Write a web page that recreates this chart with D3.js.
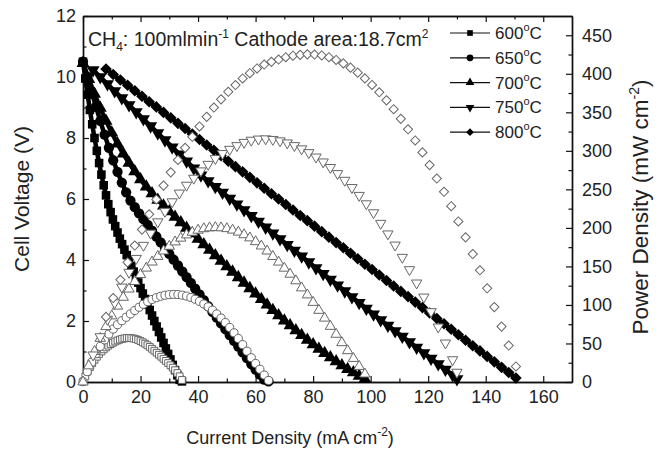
<!DOCTYPE html>
<html>
<head>
<meta charset="utf-8">
<script src="https://cdn.jsdelivr.net/npm/d3@7"></script>
<style>
body { margin: 0; background: #fff; }
svg text { font-family: "Liberation Sans", Arial, sans-serif; fill: #222; }
</style>
</head>
<body>
<svg id="chart" width="662" height="451"></svg>
<script>
const temps = ["600", "650", "700", "750", "800"]
const xTicks = [0, 20, 40, 60, 80, 100, 120, 140, 160]
const vTicks = [0, 2, 4, 6, 8, 10, 12]
const pTicks = [0, 50, 100, 150, 200, 250, 300, 350, 400, 450]

const cur600 = [0,0.8,1.6,2.4,3.2,4.0,4.8,5.6,6.4,7.2,8.0,8.8,9.6,10.4,11.2,12.0,12.8,13.6,14.4,15.2,16.0,16.8,17.6,18.4,19.2,20.0,20.8,21.6,22.4,23.2,24.0,24.8,25.6,26.4,27.2,28.0,28.8,29.6,30.4,31.2,32.0,32.8,33.6,34.4]
const volt600 = [10.50,9.95,9.42,8.92,8.45,8.00,7.58,7.18,6.80,6.45,6.12,5.83,5.57,5.33,5.11,4.90,4.70,4.52,4.34,4.16,3.98,3.80,3.62,3.44,3.26,3.08,2.90,2.72,2.54,2.36,2.18,2.00,1.82,1.64,1.46,1.28,1.10,0.92,0.74,0.56,0.39,0.22,0.07,0.02]
const pow600 = [0.5,7.2,13.5,19.2,24.3,28.8,32.8,36.4,39.6,42.4,44.9,47.1,49.1,50.9,52.5,53.9,55.0,55.9,56.6,57.0,57.1,56.9,56.4,55.6,54.5,53.1,51.5,49.7,47.7,45.5,43.1,40.6,38.0,35.4,32.8,30.1,27.4,24.6,21.7,18.6,15.3,11.6,7.4,2.6]

const cur650 = [0,1.5,3,4.5,6,7.5,9,10.5,12,13.5,15,16.5,18,19.5,21,22.5,24,25.5,27,28.5,30,31.5,33,34.5,36,37.5,39,40.5,42,43.5,45,46.5,48,49.5,51,52.5,54,55.5,57,58.5,60,61.5,63,64.5]
const volt650 = [10.50,10.00,9.51,9.03,8.56,8.11,7.68,7.27,6.89,6.54,6.22,5.95,5.73,5.53,5.34,5.15,4.96,4.77,4.58,4.39,4.20,4.01,3.82,3.63,3.44,3.25,3.06,2.87,2.68,2.49,2.30,2.11,1.92,1.73,1.54,1.35,1.16,0.97,0.78,0.59,0.41,0.24,0.08,0.02]
const pow650 = [0.5,13.5,25.7,36.6,46.2,54.7,62.2,68.7,74.4,79.5,84.0,88.4,92.8,97.0,100.9,104.3,107.1,109.4,111.3,112.6,113.4,113.7,113.5,112.7,111.5,109.7,107.4,104.6,101.3,97.5,93.2,88.3,82.9,77.1,70.7,63.8,56.4,48.5,40.0,31.5,24.0,16.5,9.0,2.0]

const cur700 = [0,2,4,6,8,10,12,14,16,18,20,22,24,26,28,30,32,34,36,38,40,42,44,46,48,50,52,54,56,58,60,62,64,66,68,70,72,74,76,78,80,82,84,86,88,90,92,94,96,98]
const volt700 = [10.45,9.93,9.44,8.98,8.56,8.17,7.81,7.48,7.18,6.90,6.64,6.40,6.18,5.97,5.78,5.59,5.41,5.23,5.05,4.87,4.69,4.51,4.33,4.15,3.97,3.79,3.61,3.43,3.25,3.07,2.89,2.71,2.53,2.35,2.18,2.01,1.85,1.69,1.53,1.38,1.23,1.08,0.94,0.80,0.67,0.54,0.42,0.31,0.20,0.10]
const pow700 = [0,20.9,39.6,56.6,71.9,85.8,98.4,109.9,120.6,130.4,139.4,147.8,155.7,163.0,170.0,176.1,181.8,186.7,190.9,194.3,197.0,198.9,200.0,200.4,200.1,199.0,197.1,194.5,191.1,187.0,182.1,176.5,170.0,162.9,155.6,147.7,139.9,131.3,122.1,113.0,103.3,93.0,82.9,72.2,61.9,51.0,40.6,30.6,20.2,10.3]

const cur750 = [3.5,6,8.5,11,13.5,16,18.5,21,23.5,26,28.5,31,33.5,36,38.5,41,43.5,46,48.5,51,53.5,56,58.5,61,63.5,66,68.5,71,73.5,76,78.5,81,83.5,86,88.5,91,93.5,96,98.5,101,103.5,106,108.5,111,113.5,116,118.5,121,123.5,126,128.5,130]
const volt750 = [10.23,10.00,9.77,9.54,9.31,9.08,8.85,8.62,8.39,8.16,7.93,7.70,7.47,7.24,7.01,6.78,6.59,6.40,6.21,6.02,5.83,5.64,5.45,5.26,5.07,4.88,4.69,4.50,4.31,4.12,3.93,3.74,3.55,3.36,3.17,2.98,2.79,2.60,2.41,2.22,2.03,1.85,1.67,1.49,1.31,1.13,0.95,0.77,0.59,0.41,0.23,0.10]
const pow750 = [35.1,58.8,81.4,102.8,123.2,142.4,160.4,177.4,193.2,207.9,221.5,233.9,245.2,255.4,264.5,274.0,282.5,290.0,296.5,302.0,306.8,311.0,313.8,315.3,315.6,314.8,313.0,310.3,306.8,302.6,297.7,292.0,285.6,278.4,270.5,261.8,252.4,242.2,231.3,219.7,205.9,192.2,177.7,161.8,145.8,128.5,110.3,91.3,71.4,50.6,28.9,12.7]

const cur800 = [8,10.5,13,15.5,18,20.5,23,25.5,28,30.5,33,35.5,38,40.5,43,45.5,48,50.5,53,55.5,58,60.5,63,65.5,68,70.5,73,75.5,78,80.5,83,85.5,88,90.5,93,95.5,98,100.5,103,105.5,108,110.5,113,115.5,118,120.5,123,125.5,128,130.5,133,135.5,138,140.5,143,145.5,148,150.5]
const volt800 = [10.26,10.08,9.90,9.73,9.55,9.37,9.19,9.02,8.84,8.66,8.48,8.31,8.13,7.95,7.77,7.60,7.42,7.24,7.06,6.89,6.71,6.53,6.35,6.17,6.00,5.82,5.64,5.46,5.29,5.11,4.93,4.75,4.57,4.40,4.22,4.04,3.86,3.69,3.51,3.33,3.15,2.97,2.80,2.62,2.44,2.26,2.08,1.91,1.73,1.55,1.37,1.19,1.02,0.84,0.66,0.48,0.31,0.13]
const pow800 = [84.5,109.0,132.6,155.3,177.1,197.8,217.7,236.9,254.9,272.1,288.2,303.9,318.2,331.6,344.1,356.2,366.8,376.6,385.4,393.9,400.8,406.9,412.0,415.5,418.5,421.5,423.5,424.6,425.2,425.0,423.8,421.5,418.0,413.5,408.0,401.5,394.0,385.5,376.0,365.5,354.0,341.5,328.0,313.5,298.0,281.5,264.0,246.9,228.1,208.4,187.7,166.1,145.0,121.6,97.2,71.9,47.3,20.2]

const currents = [cur600, cur650, cur700, cur750, cur800]
const voltages = [volt600, volt650, volt700, volt750, volt800]
const powers = [pow600, pow650, pow700, pow750, pow800]

let svg = d3.select("#chart")

let plotLeft = 83, plotRight = 572, plotTop = 16, plotBottom = 382

let x = d3.scaleLinear().domain([0, 170]).range([plotLeft, plotRight])
let yV = d3.scaleLinear().domain([0, 12]).range([plotBottom, plotTop])
let yP = d3.scaleLinear().domain([0, 475]).range([plotBottom, plotTop])

// marker shapes: square, circle, up triangle, down triangle, diamond
let shapes = [
    {type: d3.symbolSquare, size: 46, rot: 0},
    {type: d3.symbolCircle, size: 52, rot: 0},
    {type: d3.symbolTriangle, size: 46, rot: 0},
    {type: d3.symbolTriangle, size: 46, rot: 180},
    {type: d3.symbolSquare, size: 42, rot: 45}
]

function axisStyle(g) {
    g.selectAll("path.domain").attr("stroke", "#111").attr("stroke-width", 1.4)
    g.selectAll("line").attr("stroke", "#111").attr("stroke-width", 1.2)
    g.selectAll("text").attr("font-size", 18).attr("fill", "#222")
}

let minorX = d3.range(10, 170, 20)
let minorV = d3.range(1, 12, 2)
let minorP = d3.range(25, 475, 50)

svg.append("g").attr("transform", `translate(0,${plotBottom})`)
    .call(d3.axisBottom(x).tickValues(xTicks).tickSize(-6).tickSizeOuter(0).tickPadding(8))
    .call(axisStyle)
svg.append("g").attr("transform", `translate(0,${plotBottom})`)
    .call(d3.axisBottom(x).tickValues(minorX).tickSize(-3.5).tickFormat("").tickSizeOuter(0))
    .call(axisStyle)
svg.append("g").attr("transform", `translate(0,${plotTop})`)
    .call(d3.axisTop(x).tickValues(xTicks).tickSize(-6).tickFormat("").tickSizeOuter(0))
    .call(axisStyle)
svg.append("g").attr("transform", `translate(0,${plotTop})`)
    .call(d3.axisTop(x).tickValues(minorX).tickSize(-3.5).tickFormat("").tickSizeOuter(0))
    .call(axisStyle)
svg.append("g").attr("transform", `translate(${plotLeft},0)`)
    .call(d3.axisLeft(yV).tickValues(vTicks).tickSize(-6).tickSizeOuter(0).tickPadding(7))
    .call(axisStyle)
svg.append("g").attr("transform", `translate(${plotLeft},0)`)
    .call(d3.axisLeft(yV).tickValues(minorV).tickSize(-3.5).tickFormat("").tickSizeOuter(0))
    .call(axisStyle)
svg.append("g").attr("transform", `translate(${plotRight},0)`)
    .call(d3.axisRight(yP).tickValues(pTicks).tickSize(-6).tickSizeOuter(0).tickPadding(10))
    .call(axisStyle)
svg.append("g").attr("transform", `translate(${plotRight},0)`)
    .call(d3.axisRight(yP).tickValues(minorP).tickSize(-3.5).tickFormat("").tickSizeOuter(0))
    .call(axisStyle)

// voltage: line + filled symbols, drawn first
let vLine = d3.line().x(d => x(d.c)).y(d => yV(d.v))
temps.forEach((t, i) => {
    let pts = currents[i].map((c, j) => ({c: c, v: voltages[i][j]}))
    svg.append("path")
        .datum(pts)
        .attr("d", vLine)
        .attr("fill", "none")
        .attr("stroke", "#000")
        .attr("stroke-width", 4.5)
    svg.append("g").selectAll("path")
        .data(pts)
        .join("path")
            .attr("d", d3.symbol().type(shapes[i].type).size(shapes[i].size * 1.6))
            .attr("transform", d => `translate(${x(d.c)},${yV(d.v)}) rotate(${shapes[i].rot})`)
            .attr("fill", "#000")
})

// power: open symbols on top
temps.forEach((t, i) => {
    let pts = currents[i].map((c, j) => ({c: c, p: powers[i][j]}))
    svg.append("g").selectAll("path")
        .data(pts)
        .join("path")
            .attr("d", d3.symbol().type(shapes[i].type).size(shapes[i].size))
            .attr("transform", d => `translate(${x(d.c)},${yP(d.p)}) rotate(${shapes[i].rot})`)
            .attr("fill", "#fff")
            .attr("stroke", "#666")
            .attr("stroke-width", 1)
})

// legend
let legend = svg.append("g")
temps.forEach((t, i) => {
    let ly = 33 + i * 24.8
    legend.append("line")
        .attr("x1", 450).attr("x2", 490).attr("y1", ly).attr("y2", ly)
        .attr("stroke", "#111").attr("stroke-width", 1.2)
    legend.append("path")
        .attr("d", d3.symbol().type(shapes[i].type).size(shapes[i].size * 0.7))
        .attr("transform", `translate(470,${ly}) rotate(${shapes[i].rot})`)
        .attr("fill", "#000")
    let txt = legend.append("text").attr("x", 495).attr("y", ly + 6).attr("font-size", 17)
    txt.append("tspan").text(t)
    txt.append("tspan").attr("font-size", 11).attr("dy", -8).text("o")
    txt.append("tspan").attr("dy", 8).text("C")
})

// annotation
let note = svg.append("text").attr("x", 88).attr("y", 46).attr("font-size", 19.5)
note.append("tspan").text("CH")
note.append("tspan").attr("font-size", 12).attr("dy", 5).text("4")
note.append("tspan").attr("dy", -5).text(": 100mlmin")
note.append("tspan").attr("font-size", 12).attr("dy", -8).text("-1")
note.append("tspan").attr("dy", 8).text(" Cathode area:18.7cm")
note.append("tspan").attr("font-size", 12).attr("dy", -8).text("2")

// axis titles
let xt = svg.append("text").attr("x", 290).attr("y", 444).attr("text-anchor", "middle").attr("font-size", 18)
xt.append("tspan").text("Current Density (mA cm")
xt.append("tspan").attr("font-size", 12).attr("dy", -8).text("-2")
xt.append("tspan").attr("dy", 8).text(")")

svg.append("text")
    .attr("transform", `translate(29,${(plotTop + plotBottom) / 2}) rotate(-90)`)
    .attr("text-anchor", "middle").attr("font-size", 21)
    .text("Cell Voltage (V)")

let yt = svg.append("text")
    .attr("transform", `translate(648,${(plotTop + plotBottom) / 2 + 8}) rotate(-90)`)
    .attr("text-anchor", "middle").attr("font-size", 22.5)
yt.append("tspan").text("Power Density (mW cm")
yt.append("tspan").attr("font-size", 14).attr("dy", -9).text("-2")
yt.append("tspan").attr("dy", 9).text(")")
</script>
</body>
</html>
